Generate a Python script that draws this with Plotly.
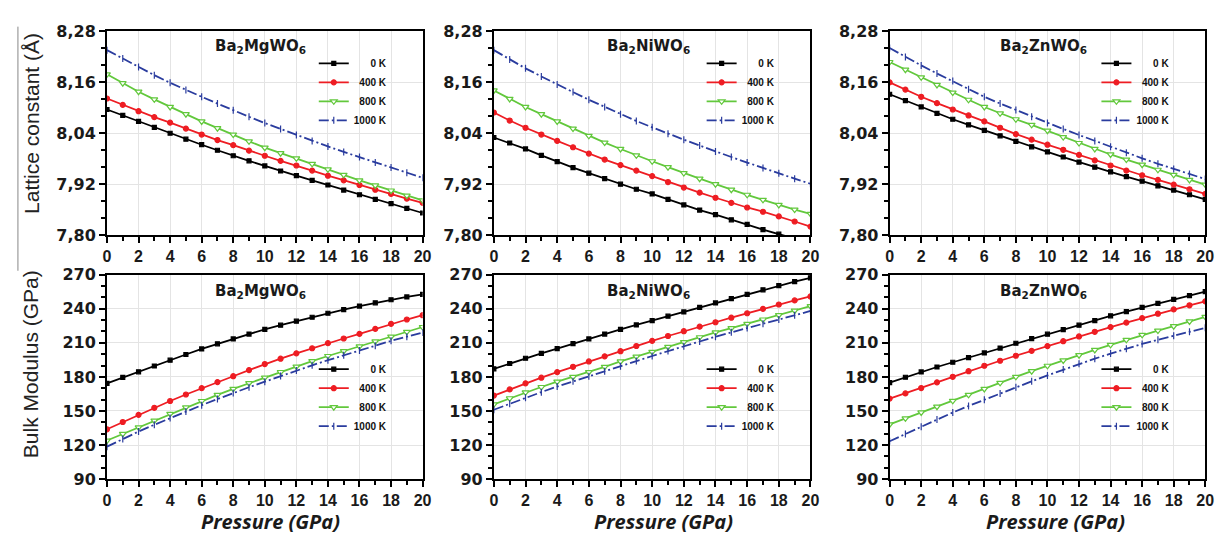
import plotly.graph_objects as go

# ---------------- data ----------------
pressure = list(range(21))
temperatures = ["0 K", "400 K", "800 K", "1000 K"]
compounds = ["Ba<sub>2</sub>MgWO<sub>6</sub>", "Ba<sub>2</sub>NiWO<sub>6</sub>", "Ba<sub>2</sub>ZnWO<sub>6</sub>"]

# Lattice constant (Å)
mg_lat_0 = [8.096, 8.082, 8.068, 8.054, 8.040, 8.026, 8.013, 8.000, 7.987, 7.975, 7.963, 7.951, 7.940, 7.929, 7.918, 7.906, 7.895, 7.884, 7.874, 7.863, 7.852]
mg_lat_400 = [8.122, 8.107, 8.092, 8.078, 8.065, 8.051, 8.037, 8.024, 8.012, 7.999, 7.987, 7.975, 7.964, 7.952, 7.940, 7.929, 7.918, 7.907, 7.897, 7.886, 7.876]
mg_lat_800 = [8.179, 8.158, 8.138, 8.120, 8.102, 8.085, 8.068, 8.052, 8.037, 8.021, 8.006, 7.993, 7.981, 7.968, 7.955, 7.942, 7.929, 7.917, 7.905, 7.893, 7.882]
mg_lat_1000 = [8.236, 8.216, 8.196, 8.177, 8.159, 8.142, 8.126, 8.110, 8.094, 8.079, 8.064, 8.050, 8.036, 8.022, 8.009, 7.996, 7.984, 7.971, 7.959, 7.947, 7.935]

ni_lat_0 = [8.030, 8.017, 8.003, 7.988, 7.973, 7.959, 7.946, 7.933, 7.920, 7.908, 7.897, 7.884, 7.871, 7.859, 7.848, 7.836, 7.825, 7.813, 7.802, 7.792, 7.782]
ni_lat_400 = [8.089, 8.070, 8.053, 8.037, 8.022, 8.007, 7.992, 7.978, 7.965, 7.952, 7.939, 7.925, 7.912, 7.900, 7.888, 7.876, 7.865, 7.855, 7.844, 7.832, 7.820]
ni_lat_800 = [8.141, 8.121, 8.102, 8.085, 8.068, 8.051, 8.034, 8.018, 8.003, 7.988, 7.974, 7.960, 7.946, 7.933, 7.920, 7.907, 7.895, 7.883, 7.871, 7.860, 7.850]
ni_lat_1000 = [8.236, 8.214, 8.193, 8.174, 8.155, 8.137, 8.119, 8.102, 8.085, 8.069, 8.054, 8.039, 8.025, 8.011, 7.997, 7.984, 7.971, 7.958, 7.946, 7.933, 7.921]

zn_lat_0 = [8.132, 8.117, 8.102, 8.087, 8.073, 8.060, 8.047, 8.034, 8.021, 8.008, 7.996, 7.984, 7.972, 7.960, 7.949, 7.938, 7.927, 7.916, 7.906, 7.895, 7.884]
zn_lat_400 = [8.160, 8.143, 8.126, 8.111, 8.096, 8.082, 8.068, 8.053, 8.038, 8.025, 8.013, 8.001, 7.989, 7.976, 7.964, 7.952, 7.941, 7.930, 7.919, 7.908, 7.897]
zn_lat_800 = [8.208, 8.190, 8.172, 8.154, 8.136, 8.119, 8.102, 8.087, 8.073, 8.060, 8.046, 8.031, 8.017, 8.003, 7.990, 7.978, 7.966, 7.954, 7.942, 7.930, 7.919]
zn_lat_1000 = [8.241, 8.220, 8.200, 8.181, 8.163, 8.144, 8.126, 8.110, 8.095, 8.079, 8.064, 8.050, 8.036, 8.022, 8.008, 7.994, 7.981, 7.968, 7.956, 7.944, 7.932]

# Bulk modulus (GPa)
mg_b_0 = [174.3, 179.5, 184.5, 189.6, 194.7, 199.7, 204.6, 209.1, 213.4, 217.7, 221.9, 225.5, 229.0, 232.5, 236.0, 239.2, 242.3, 245.2, 247.9, 250.4, 252.7]
mg_b_400 = [133.9, 140.3, 146.6, 152.8, 158.8, 164.5, 170.1, 175.4, 180.6, 186.0, 191.3, 196.0, 200.7, 205.2, 209.7, 213.8, 217.9, 222.3, 226.7, 230.5, 234.3]
mg_b_800 = [124.0, 129.8, 135.6, 141.6, 147.5, 153.2, 158.8, 164.2, 169.5, 174.5, 179.4, 184.3, 189.1, 193.8, 198.4, 202.7, 206.9, 211.2, 215.4, 219.7, 223.9]
mg_b_1000 = [118.6, 125.3, 131.9, 137.9, 143.8, 149.5, 155.1, 160.5, 165.9, 170.9, 175.8, 180.8, 185.7, 190.2, 194.7, 199.0, 203.2, 207.5, 211.7, 215.4, 219.1]

ni_b_0 = [187.1, 191.8, 196.4, 200.7, 204.9, 209.2, 213.4, 217.7, 221.9, 225.7, 229.5, 233.4, 237.2, 241.2, 245.1, 248.9, 252.7, 256.6, 260.4, 263.8, 267.2]
ni_b_400 = [163.6, 169.0, 174.3, 179.3, 184.2, 188.9, 193.6, 198.1, 202.6, 207.2, 211.7, 216.0, 220.2, 224.2, 228.1, 232.1, 236.0, 239.9, 243.7, 247.3, 250.8]
ni_b_800 = [155.9, 161.2, 166.4, 171.1, 175.8, 180.0, 184.2, 188.9, 193.6, 197.9, 202.1, 206.4, 210.6, 214.9, 219.1, 222.9, 226.7, 230.5, 234.3, 238.3, 242.3]
ni_b_1000 = [151.1, 156.4, 161.6, 166.6, 171.5, 176.1, 180.6, 185.0, 189.3, 193.9, 198.4, 202.7, 206.9, 211.2, 215.4, 219.2, 223.0, 226.7, 230.4, 234.2, 238.0]

zn_b_0 = [175.0, 179.7, 184.4, 188.7, 192.9, 197.0, 201.1, 205.4, 209.6, 213.6, 217.6, 221.6, 225.5, 229.6, 233.7, 237.4, 241.1, 244.7, 248.2, 251.6, 255.0]
zn_b_400 = [160.9, 165.5, 170.2, 175.2, 180.1, 185.0, 189.8, 194.2, 198.6, 202.9, 207.1, 211.4, 215.6, 219.7, 223.8, 227.8, 231.7, 235.6, 239.4, 243.0, 246.5]
zn_b_800 = [138.2, 143.5, 148.7, 153.8, 158.9, 164.2, 169.4, 174.8, 180.1, 185.0, 189.8, 194.5, 199.1, 203.7, 208.2, 212.6, 217.0, 220.8, 224.6, 228.8, 232.9]
zn_b_1000 = [123.4, 129.8, 136.2, 142.5, 148.7, 154.4, 160.0, 165.4, 170.8, 176.1, 181.3, 186.4, 191.5, 196.0, 200.5, 204.8, 209.0, 212.6, 216.1, 219.7, 223.2]

lattice_ticks = [7.80, 7.92, 8.04, 8.16, 8.28]
bulk_ticks = [90, 120, 150, 180, 210, 240, 270]

panel_data = [
    [mg_lat_0, mg_lat_400, mg_lat_800, mg_lat_1000],
    [ni_lat_0, ni_lat_400, ni_lat_800, ni_lat_1000],
    [zn_lat_0, zn_lat_400, zn_lat_800, zn_lat_1000],
    [mg_b_0, mg_b_400, mg_b_800, mg_b_1000],
    [ni_b_0, ni_b_400, ni_b_800, ni_b_1000],
    [zn_b_0, zn_b_400, zn_b_800, zn_b_1000],
]

# ---------------- style / layout ----------------
W, H = 1231, 541
xpix = [(96, 415), (487, 807), (887, 1206)]
ypix = [(15, 226), (267, 479)]

styles = [
    dict(color="#000000", dash="solid", symbol="square", size=4, fill="#000000"),
    dict(color="#ee1d23", dash="solid", symbol="circle", size=5, fill="#ee1d23"),
    dict(color="#62c83c", dash="solid", symbol="triangle-down", size=6, fill="#ffffff"),
    dict(color="#2a3c9e", dash="10px,3px,2px,3px", symbol="line-ns", size=5, fill="#2a3c9e"),
]


def right_aligned(label, width=6):
    # pad with non-breaking spaces (two NBSP ~ one digit) to mimic right-aligned legend text
    pad = (width - len(label)) * 2
    return "\u00a0" * pad + label


fig = go.Figure()
layout = dict(
    width=W, height=H, margin=dict(l=0, r=0, t=0, b=0),
    paper_bgcolor="white", plot_bgcolor="white",
    separators=",.", showlegend=True,
)
annotations = []

tick_font_x = dict(family="Arial", size=16, color="#1a1a1a", weight="bold")
tick_font_y = dict(family="DejaVu Sans", size=16, color="#1a1a1a", weight="bold")

for i, series in enumerate(panel_data):
    row, col = divmod(i, 3)
    idx = i + 1
    xa = "x" if idx == 1 else f"x{idx}"
    ya = "y" if idx == 1 else f"y{idx}"
    leg = "legend" if idx == 1 else f"legend{idx}"
    for t, vals in enumerate(series):
        st = styles[t]
        fig.add_trace(go.Scatter(
            x=pressure, y=vals, name=right_aligned(temperatures[t]), xaxis=xa, yaxis=ya,
            mode="lines+markers", legend=leg,
            line=dict(color=st["color"], width=1.8, dash=st["dash"]),
            marker=dict(symbol=st["symbol"], size=st["size"], color=st["fill"],
                        line=dict(color=st["color"], width=1.2)),
            cliponaxis=True,
        ))
    x0, x1 = xpix[col]
    y0, y1 = ypix[row]
    xkey = "xaxis" if idx == 1 else f"xaxis{idx}"
    ykey = "yaxis" if idx == 1 else f"yaxis{idx}"
    layout[xkey] = dict(
        domain=[x0 / W, x1 / W], anchor=ya, range=[0, 20], tick0=0, dtick=2,
        ticks="outside", ticklen=6, tickwidth=2, tickcolor="black",
        showline=True, linewidth=2, linecolor="black", mirror=True,
        showgrid=True, gridcolor="#e4e4e4", gridwidth=1, zeroline=False,
        tickfont=tick_font_x,
        minor=dict(dtick=1, ticks="outside", ticklen=4, tickwidth=2, tickcolor="black", showgrid=False),
    )
    if row == 0:
        yr = [lattice_ticks[0], lattice_ticks[-1]]
        layout[ykey] = dict(tickvals=lattice_ticks, tickformat=".2f",
                            minor=dict(dtick=0.04, tick0=7.80, ticks="outside", ticklen=4,
                                       tickwidth=2, tickcolor="black", showgrid=False))
    else:
        yr = [bulk_ticks[0], bulk_ticks[-1]]
        layout[ykey] = dict(tickvals=bulk_ticks,
                            minor=dict(dtick=10, tick0=90, ticks="outside", ticklen=4,
                                       tickwidth=2, tickcolor="black", showgrid=False))
    layout[ykey].update(
        domain=[1 - y1 / H, 1 - y0 / H], anchor=xa, range=yr,
        ticks="outside", ticklen=6, tickwidth=2, tickcolor="black",
        showline=True, linewidth=2, linecolor="black", mirror=True,
        showgrid=True, gridcolor="#e4e4e4", gridwidth=1, zeroline=False,
        tickfont=tick_font_y,
    )
    # legend
    ly = 33 if row == 0 else 350
    layout[leg] = dict(
        x=(x1 - 110) / W, y=1 - ly / H, xanchor="left", yanchor="top",
        bgcolor="rgba(0,0,0,0)", borderwidth=0, itemwidth=30, tracegroupgap=0,
        font=dict(family="Arial", size=10, color="#111", weight="bold"),
    )
    # panel title
    title_y = 31 if row == 0 else 284
    annotations.append(dict(
        text=f"<b>{compounds[col]}</b>", xref="paper", yref="paper",
        x=((x0 + x1) / 2 - 4) / W, y=1 - title_y / H, xanchor="center", yanchor="middle",
        showarrow=False, font=dict(family="DejaVu Sans", size=15, color="#1a1a1a"),
    ))

# axis titles
annotations.append(dict(text="Lattice constant (Å)", xref="paper", yref="paper",
                        x=19 / W, y=1 - 110 / H, textangle=-90, showarrow=False,
                        xanchor="center", yanchor="middle",
                        font=dict(family="Arial", size=21, color="#222")))
annotations.append(dict(text="Bulk Modulus (GPa)", xref="paper", yref="paper",
                        x=19 / W, y=1 - 360 / H, textangle=-90, showarrow=False,
                        xanchor="center", yanchor="middle",
                        font=dict(family="Arial", size=21, color="#222")))
for cx in (261, 658, 1055):
    annotations.append(dict(text="<b><i>Pressure (GPa)</i></b>", xref="paper", yref="paper",
                            x=cx / W, y=1 - 523 / H, showarrow=False,
                            xanchor="center", yanchor="middle",
                            font=dict(family="Open Sans", size=20, color="#1a1a1a")))

layout["annotations"] = annotations
layout["shapes"] = [dict(type="line", xref="paper", yref="paper",
                         x0=6 / W, x1=6 / W, y0=1 - 10 / H, y1=1 - 263 / H,
                         line=dict(color="#888", width=1))]
fig.update_layout(**layout)
fig.write_html("out.html")
